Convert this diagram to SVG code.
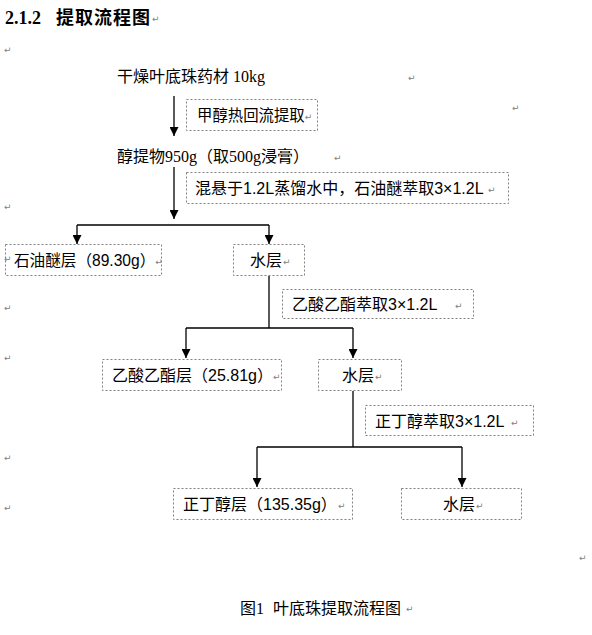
<svg xmlns="http://www.w3.org/2000/svg" width="592" height="635" viewBox="0 0 592 635">
<defs>
<style>
.bg{fill:#ffffff}
.box{fill:none;stroke:#808080;stroke-width:1;stroke-dasharray:2 2}
.t{font-family:"Liberation Sans","Noto Sans CJK SC",sans-serif;font-size:16px;fill:#000}
.s{font-family:"Liberation Serif","Noto Sans CJK SC",serif;font-size:16px;fill:#000}
.h{font-family:"Liberation Serif","Noto Sans CJK SC",serif;font-size:18px;font-weight:bold;fill:#000}
.pm{font-family:"DejaVu Sans",sans-serif;font-size:9px;fill:#808080}
.ln{fill:none;stroke:#000;stroke-width:1.3}
</style>
<marker id="ah" markerUnits="userSpaceOnUse" markerWidth="9" markerHeight="9" refX="9" refY="4.5" orient="auto">
<path d="M0,0 L9,4.5 L0,9 z" fill="#000"/>
</marker>
</defs>
<rect class="bg" x="0" y="0" width="592" height="635"/>

<g id="heading">
<text class="h" x="5" y="24">2.1.2</text>
<text class="h" x="56" y="24" letter-spacing="1">提取流程图</text>
</g>

<g id="marks">
<text class="pm" x="152" y="22">↵</text>
<text class="pm" x="4" y="53">↵</text>
<text class="pm" x="408" y="81">↵</text>
<text class="pm" x="512" y="111">↵</text>
<text class="pm" x="334" y="161">↵</text>
<text class="pm" x="4" y="210">↵</text>
<text class="pm" x="4" y="311">↵</text>
<text class="pm" x="4" y="361">↵</text>
<text class="pm" x="4" y="461">↵</text>
<text class="pm" x="4" y="511">↵</text>
<text class="pm" x="579" y="561">↵</text>
</g>

<g id="n-start">
<text class="s" x="117" y="82">干燥叶底珠药材 10kg</text>
</g>

<g id="n-step1">
<rect class="box" x="186.5" y="99.5" width="131" height="31"/>
<text class="t" x="197" y="121" style="font-size:15.4px">甲醇热回流提取<tspan class="pm" dy="-1">↵</tspan></text>
</g>

<g id="n-extract">
<text class="s" x="117" y="162">醇提物950g（取500g浸膏）</text>
</g>

<g id="n-step2">
<rect class="box" x="186.5" y="172.5" width="322" height="31"/>
<text class="t" x="195" y="194">混悬于1.2L蒸馏水中，石油醚萃取3×1.2L</text>
<text class="pm" x="488" y="193">↵</text>
</g>

<g id="n-pe">
<rect class="box" x="5.5" y="244.5" width="156" height="31"/>
<text class="pm" x="4" y="262">↵</text>
<text class="t" x="14" y="266" style="font-size:15.6px">石油醚层（89.30g）<tspan class="pm" dy="-1">↵</tspan></text>
</g>

<g id="n-water1">
<rect class="box" x="233.5" y="244.5" width="71" height="31"/>
<text class="t" x="250" y="266">水层</text>
<text class="pm" x="283" y="265">↵</text>
</g>

<g id="n-step3">
<rect class="box" x="282.5" y="289.5" width="191" height="29"/>
<text class="t" x="292" y="310">乙酸乙酯萃取3×1.2L</text>
<text class="pm" x="455" y="309">↵</text>
</g>

<g id="n-ea">
<rect class="box" x="102.5" y="359.5" width="179" height="31"/>
<text class="t" x="112" y="381">乙酸乙酯层（25.81g）</text>
<text class="pm" x="273" y="380">↵</text>
</g>

<g id="n-water2">
<rect class="box" x="318.5" y="359.5" width="83" height="31"/>
<text class="t" x="342" y="381">水层</text>
<text class="pm" x="375" y="380">↵</text>
</g>

<g id="n-step4">
<rect class="box" x="365.5" y="405.5" width="168" height="30"/>
<text class="t" x="375" y="427">正丁醇萃取3×1.2L</text>
<text class="pm" x="511" y="426">↵</text>
</g>

<g id="n-bu">
<rect class="box" x="173.5" y="488.5" width="179" height="31"/>
<text class="t" x="183" y="510">正丁醇层（135.35g）</text>
<text class="pm" x="338" y="509">↵</text>
</g>

<g id="n-water3">
<rect class="box" x="401.5" y="488.5" width="120" height="31"/>
<text class="t" x="443" y="510">水层</text>
<text class="pm" x="476" y="509">↵</text>
</g>

<g id="connectors">
<path class="ln" d="M174 96 V136" marker-end="url(#ah)"/>
<path class="ln" d="M174 167 V219" marker-end="url(#ah)"/>
<path class="ln" d="M77 225 H269"/>
<path class="ln" d="M77 225 V244" marker-end="url(#ah)"/>
<path class="ln" d="M269 225 V244" marker-end="url(#ah)"/>
<path class="ln" d="M269 276 V328"/>
<path class="ln" d="M186 328 H353"/>
<path class="ln" d="M186 328 V358" marker-end="url(#ah)"/>
<path class="ln" d="M353 328 V358" marker-end="url(#ah)"/>
<path class="ln" d="M353 391 V447"/>
<path class="ln" d="M257 447 H462"/>
<path class="ln" d="M257 447 V487" marker-end="url(#ah)"/>
<path class="ln" d="M462 447 V487" marker-end="url(#ah)"/>
</g>

<g id="caption">
<text class="s" x="240" y="614">图1</text>
<text class="s" x="273" y="614">叶底珠提取流程图</text>
<text class="pm" x="406" y="612">↵</text>
</g>
</svg>
